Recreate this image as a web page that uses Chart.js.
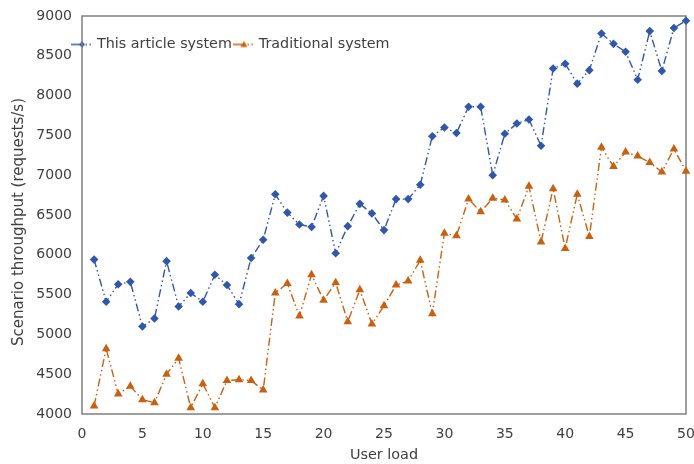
<!DOCTYPE html>
<html><head><meta charset="utf-8">
<script src="https://cdn.jsdelivr.net/npm/chart.js@4/dist/chart.umd.min.js"></script>
<style>html,body{margin:0;padding:0;background:#fff}#wrap{width:694px;height:464px}</style>
</head><body><div id="wrap"><canvas id="c" width="694" height="464"></canvas></div>
<script>
const userLoad = [1,2,3,4,5,6,7,8,9,10,11,12,13,14,15,16,17,18,19,20,21,22,23,24,25,26,27,28,29,30,31,32,33,34,35,36,37,38,39,40,41,42,43,44,45,46,47,48,49,50];
const thisArticleSystem = [5940,5410,5630,5660,5100,5200,5920,5350,5520,5410,5750,5620,5380,5960,6190,6760,6530,6380,6350,6740,6020,6360,6640,6520,6310,6700,6700,6880,7490,7600,7530,7860,7860,7000,7520,7650,7700,7370,8340,8400,8150,8320,8780,8650,8550,8200,8810,8310,8850,8940];
const traditionalSystem = [4100,4820,4250,4350,4180,4140,4500,4700,4080,4380,4080,4420,4430,4420,4300,5520,5640,5230,5750,5430,5650,5160,5560,5130,5360,5620,5670,5930,5260,6270,6240,6700,6540,6710,6690,6450,6860,6160,6830,6080,6760,6230,7350,7110,7290,7240,7160,7040,7330,7050];
const xTicks = [0,5,10,15,20,25,30,35,40,45,50];
const yTicks = [4000,4500,5000,5500,6000,6500,7000,7500,8000,8500,9000];
const seriesNames = ['This article system','Traditional system'];

const BLUE = '#3157A8';
const ORANGE = '#C8600F';
const FONT = "Verdana, 'DejaVu Sans', sans-serif";
const TEXT = '#404040';

function legendImg(color, kind){
  const c = document.createElement('canvas');
  c.width = 23; c.height = 10;
  const g = c.getContext('2d');
  g.strokeStyle = color; g.fillStyle = color; g.lineWidth = 1.5;
  g.beginPath(); g.moveTo(0,5); g.lineTo(9,5); g.stroke();
  g.fillRect(14.5,4.3,1.5,1.5);
  g.fillRect(18.5,4.3,1.5,1.5);
  g.beginPath();
  if (kind === 'diamond'){
    g.moveTo(11,1.8); g.lineTo(14,5); g.lineTo(11,8.2); g.lineTo(8,5);
  } else {
    g.moveTo(11,1.5); g.lineTo(14.5,7.5); g.lineTo(7.5,7.5);
  }
  g.closePath(); g.fill();
  return c;
}
const legendIcons = [legendImg(BLUE,'diamond'), legendImg(ORANGE,'triangle')];

const framePlugin = {
  id: 'frame',
  afterLayout(chart){
    const y = chart.scales.y;
    if (y && !y._titleShift){
      const orig = y.drawTitle;
      y.drawTitle = function(){
        const t = this.top, b = this.bottom;
        this.top = t + 7; this.bottom = b + 7;
        orig.call(this);
        this.top = t; this.bottom = b;
      };
      y._titleShift = true;
    }
  },
  beforeDraw(chart){
    const lg = chart.legend;
    if (lg){ lg.left = 70; lg.top = 32.2; lg.right = 686; lg.bottom = 60; lg.width = 616; lg.height = 27.8; }
  },
  beforeDatasetsDraw(chart){
    const a = chart.chartArea, ctx = chart.ctx;
    ctx.save();
    ctx.strokeStyle = '#7f7f7f'; ctx.lineWidth = 1.5;
    ctx.strokeRect(a.left, a.top, a.right - a.left, a.bottom - a.top);
    ctx.restore();
  }
};

new Chart(document.getElementById('c'), {
  type: 'line',
  data: {
    labels: userLoad,
    datasets: [
      { label: seriesNames[0], data: userLoad.map((x,i)=>({x, y: thisArticleSystem[i]})),
        borderColor: BLUE, backgroundColor: BLUE, borderWidth: 1.4, borderDash: [8,3,1.5,3,1.5,3],
        pointStyle: 'rectRot', pointRadius: 4.3, pointBorderWidth: 0, pointBackgroundColor: BLUE, tension: 0, clip: false },
      { label: seriesNames[1], data: userLoad.map((x,i)=>({x, y: traditionalSystem[i]})),
        borderColor: ORANGE, backgroundColor: ORANGE, borderWidth: 1.4, borderDash: [8,3,1.5,3,1.5,3],
        pointStyle: 'triangle', pointRadius: 5, pointBorderWidth: 0, pointBackgroundColor: ORANGE, tension: 0, clip: false }
    ]
  },
  options: {
    responsive: false, animation: false,
    layout: { padding: { top: 15, right: 8, left: 0, bottom: 0 } },
    plugins: {
      tooltip: { enabled: false },
      legend: {
        position: 'top', align: 'start', maxHeight: 1,
        labels: {
          usePointStyle: true, pointStyleWidth: 14.7, padding: 5.15, color: TEXT,
          font: { family: FONT, size: 14.3, lineHeight: 1 },
          generateLabels(chart){
            const items = Chart.defaults.plugins.legend.labels.generateLabels(chart);
            items.forEach((it,i)=>{ it.pointStyle = legendIcons[i]; });
            return items;
          }
        }
      }
    },
    scales: {
      x: {
        type: 'linear', min: 0, max: 50,
        afterBuildTicks(s){ s.ticks = xTicks.map(v=>({value: v})); },
        afterFit(s){ s.height = 50; s.paddingLeft = 0; s.paddingRight = 0; },
        grid: { display: false, drawTicks: false }, border: { display: false },
        ticks: { color: TEXT, padding: 12, maxRotation: 0, font: { family: FONT, size: 14 }, callback: v => String(v) },
        title: { display: true, text: 'User load', color: TEXT, padding: { top: 0, bottom: 0 }, font: { family: FONT, size: 14.4 } }
      },
      y: {
        type: 'linear', min: 4000, max: 9000,
        afterBuildTicks(s){ s.ticks = yTicks.map(v=>({value: v})); },
        afterFit(s){ s.width = 82; s.paddingTop = 0; s.paddingBottom = 0; },
        grid: { display: false, drawTicks: false }, border: { display: false },
        ticks: { color: TEXT, padding: 10, font: { family: FONT, size: 14 }, callback: v => String(v) },
        title: { display: true, text: 'Scenario throughput (requests/s)', color: TEXT, padding: { top: 10, bottom: 0 }, font: { family: FONT, size: 15 } }
      }
    }
  },
  plugins: [framePlugin]
});
</script></body></html>
